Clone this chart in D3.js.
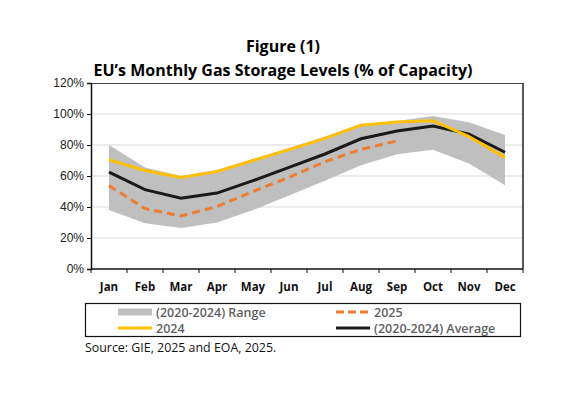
<!DOCTYPE html>
<html>
<head>
<meta charset="utf-8">
<script src="https://cdn.jsdelivr.net/npm/d3@7"></script>
<style>
  body { margin: 0; background: #fff; }
  svg { display: block; }
  .title { font-family: "Open Sans", sans-serif; font-weight: 700; font-size: 16px; fill: #000; }
  .ytick text { font-family: "Liberation Sans", Arial, sans-serif; font-size: 12px; fill: #222; }
  .xlab { font-family: "Open Sans", sans-serif; font-weight: 700; font-size: 11.5px; fill: #111; }
  .legend text { font-family: "Open Sans", sans-serif; font-weight: 600; font-size: 12.5px; fill: #5f5f5f; }
  .source { font-family: "Open Sans", sans-serif; font-size: 12.4px; fill: #111; }
</style>
</head>
<body>
<div id="chart"></div>
<script>
var months = ["Jan", "Feb", "Mar", "Apr", "May", "Jun", "Jul", "Aug", "Sep", "Oct", "Nov", "Dec"];
var rangeLow  = [38, 29.5, 26.5, 30, 38, 47.5, 57, 67, 74, 77, 68, 54];
var rangeHigh = [80, 65.5, 60, 64, 71, 78, 85.5, 93.5, 95.5, 98.7, 94.6, 86.5];
var y2024     = [70.5, 63.5, 59, 62.8, 70, 77, 84.3, 92.8, 94.8, 95.7, 85.4, 72];
var avg       = [62.5, 51.2, 45.7, 49, 57, 65.6, 74.2, 84, 89, 92.3, 87, 75.3];
var y2025     = [53.8, 39, 34.2, 40.3, 50, 59.2, 69.2, 77.2, 82.6];
var yTicks = [0, 20, 40, 60, 80, 100, 120];

var W = 568, H = 393;
var margin = {top: 83, right: 45, bottom: 124, left: 91},
    width = W - margin.left - margin.right,
    height = H - margin.top - margin.bottom;

var svg = d3.select("#chart").append("svg")
    .attr("width", W)
    .attr("height", H);

svg.append("text").attr("class", "title")
    .attr("x", 283).attr("y", 52).attr("text-anchor", "middle")
    .text("Figure (1)");
svg.append("text").attr("class", "title")
    .attr("x", 283).attr("y", 76).attr("text-anchor", "middle")
    .text("EU\u2019s Monthly Gas Storage Levels (% of Capacity)");

var g = svg.append("g")
    .attr("transform", "translate(" + margin.left + "," + margin.top + ")");

var x = d3.scaleBand().domain(months).range([0, width]).padding(0);
var y = d3.scaleLinear().domain([0, 120]).range([height, 0]);
var cx = function(i) { return x(months[i]) + x.bandwidth() / 2; };

// gridlines
g.append("g").selectAll("line")
    .data(yTicks.filter(function(d) { return d > 0 && d < 120; }))
    .enter().append("line")
    .attr("x1", 0).attr("x2", width)
    .attr("y1", function(d) { return y(d); })
    .attr("y2", function(d) { return y(d); })
    .attr("stroke", "#d9d9d9").attr("stroke-width", 1);

// range band
var area = d3.area()
    .x(function(d, i) { return cx(i); })
    .y0(function(d, i) { return y(rangeLow[i]); })
    .y1(function(d) { return y(d); });
g.append("path").datum(rangeHigh)
    .attr("d", area)
    .attr("fill", "#bfbfbf");

var line = d3.line()
    .x(function(d, i) { return cx(i); })
    .y(function(d) { return y(d); });

g.append("path").datum(y2025)
    .attr("d", line).attr("fill", "none")
    .attr("stroke", "#ED7D31").attr("stroke-width", 3)
    .attr("stroke-dasharray", "8,5");
g.append("path").datum(avg)
    .attr("d", line).attr("fill", "none")
    .attr("stroke", "#1a1a1a").attr("stroke-width", 3);
g.append("path").datum(y2024)
    .attr("d", line).attr("fill", "none")
    .attr("stroke", "#FFC000").attr("stroke-width", 3);

// plot frame top/right
g.append("line").attr("x1", 0).attr("x2", width).attr("y1", 0.5).attr("y2", 0.5)
    .attr("stroke", "#444").attr("stroke-width", 1);
g.append("line").attr("x1", width).attr("x2", width).attr("y1", 0).attr("y2", height)
    .attr("stroke", "#222").attr("stroke-width", 1.5);

// y axis
var yAxis = d3.axisLeft(y).tickValues(yTicks).tickSize(4).tickPadding(3)
    .tickFormat(function(d) { return d + "%"; });
var ya = g.append("g").attr("class", "ytick").call(yAxis);
ya.select(".domain").attr("stroke", "#111").attr("stroke-width", 1.5);
ya.selectAll(".tick line").attr("stroke", "#111");

// x axis with ticks at category boundaries
g.append("line").attr("x1", 0).attr("x2", width).attr("y1", height).attr("y2", height)
    .attr("stroke", "#111").attr("stroke-width", 1.5);
var bounds = months.map(function(m) { return x(m); }).concat([width]);
g.append("g").selectAll("line").data(bounds).enter().append("line")
    .attr("x1", function(d) { return d; }).attr("x2", function(d) { return d; })
    .attr("y1", height).attr("y2", height + 4)
    .attr("stroke", "#111").attr("stroke-width", 1);
g.append("g").selectAll("text").data(months).enter().append("text")
    .attr("class", "xlab")
    .attr("x", function(d) { return x(d) + x.bandwidth() / 2; })
    .attr("y", height + 22)
    .attr("text-anchor", "middle")
    .text(function(d) { return d; });

// legend
var lg = svg.append("g").attr("class", "legend");
lg.append("rect").attr("x", 85.5).attr("y", 303.5).attr("width", 435).attr("height", 33)
    .attr("fill", "none").attr("stroke", "#111").attr("stroke-width", 1.2);
var items = [
  {label: "(2020-2024) Range", x: 118, y: 312, type: "area"},
  {label: "2025", x: 336, y: 312, type: "dash"},
  {label: "2024", x: 118, y: 328, type: "gold"},
  {label: "(2020-2024) Average", x: 336, y: 328, type: "black"}
];
items.forEach(function(it) {
  if (it.type === "area") {
    lg.append("rect").attr("x", it.x).attr("y", it.y - 3.5).attr("width", 34).attr("height", 7)
      .attr("fill", "#bfbfbf");
  } else {
    var col = it.type === "dash" ? "#ED7D31" : it.type === "gold" ? "#FFC000" : "#1a1a1a";
    lg.append("line").attr("x1", it.x).attr("x2", it.x + 34).attr("y1", it.y).attr("y2", it.y)
      .attr("stroke", col).attr("stroke-width", 3)
      .attr("stroke-dasharray", it.type === "dash" ? "8,4" : null);
  }
  lg.append("text").attr("x", it.x + 38).attr("y", it.y + 4.5).text(it.label);
});

svg.append("text").attr("class", "source")
    .attr("x", 85).attr("y", 352)
    .text("Source: GIE, 2025 and EOA, 2025.");
</script>
</body>
</html>
